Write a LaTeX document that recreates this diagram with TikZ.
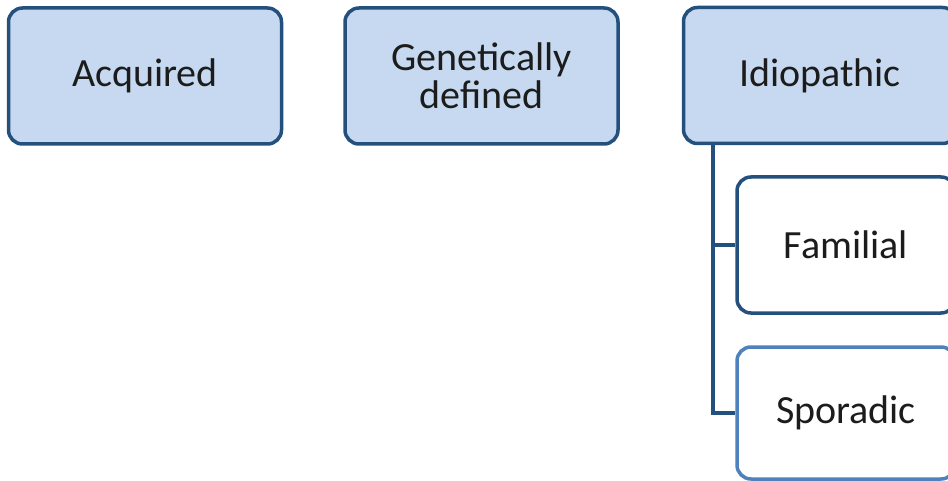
\documentclass[tikz,border=0pt]{standalone}
\usepackage{fontspec}
\setmainfont{Carlito}
\definecolor{boxfill}{HTML}{C6D9F0}
\definecolor{darkline}{HTML}{24507E}
\definecolor{lightline}{HTML}{4F81BD}
\definecolor{textcol}{HTML}{1C1C1C}
\begin{document}
\begin{tikzpicture}[x=1pt,y=-1pt,
  catbox/.style={draw=darkline, line width=3.5pt, fill=boxfill, rounded corners=14pt,
    minimum width=273pt, minimum height=136pt, inner sep=0pt, align=center,
    font=\fontsize{40}{38}\selectfont, text=textcol},
  subbox/.style={catbox, fill=white, minimum width=218pt},
  link/.style={draw=darkline, line width=3.5pt}]
\clip (0,0) rectangle (948,481);
\fill[white] (0,0) rectangle (948,481);
\node[catbox] (acq) at (145,76) {Acquired};
\node[catbox] (gen) at (481.5,76) {Genetically\\defined};
\node[catbox] (idio) at (820,75.5) {Idiopathic};
\node[subbox] (fam) at (846,245) {Familial};
\node[subbox, draw=lightline, minimum height=132pt] (spo) at (846,413) {Sporadic};
\coordinate (trunk) at (713,143);
\draw[link] (trunk) |- (fam.west);
\draw[link] (trunk) |- (spo.west);
\end{tikzpicture}
\end{document}
